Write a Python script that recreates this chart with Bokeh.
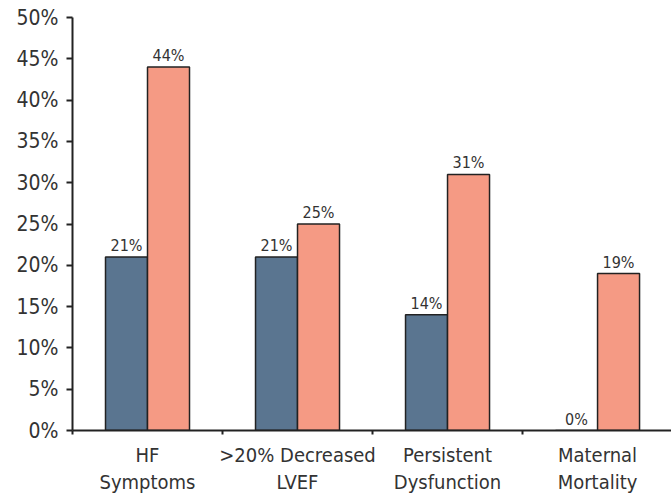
from bokeh.plotting import figure
from bokeh.models import ColumnDataSource, FixedTicker, PrintfTickFormatter, Range1d
from bokeh.core.properties import value
from bokeh.embed import file_html
from bokeh.resources import INLINE

# Outcome categories (two-line labels) and percentages for the two groups
categories = ["HF\nSymptoms", ">20% Decreased\nLVEF", "Persistent\nDysfunction", "Maternal\nMortality"]
group_a = [21, 21, 14, 0]
group_b = [44, 25, 31, 19]
y_ticks = [0, 5, 10, 15, 20, 25, 30, 35, 40, 45, 50]

COLOR_A = "#5a7590"
COLOR_B = "#f59a84"
TEXT = "#333333"
FONT = "'DejaVu Sans Condensed', 'Noto Sans Condensed', 'Roboto Condensed', 'Open Sans'"
BAR_W = 0.28

centers = [i + 0.5 for i in range(len(categories))]

src_a = ColumnDataSource(dict(
    x=[c - BAR_W / 2 for c in centers], top=group_a,
    label=[f"{v}%" for v in group_a]))
src_b = ColumnDataSource(dict(
    x=[c + BAR_W / 2 for c in centers], top=group_b,
    label=[f"{v}%" for v in group_b]))

p = figure(width=671, height=494, output_backend="svg", toolbar_location=None,
           x_range=Range1d(0, 3.993), y_range=Range1d(0, 50),
           min_border_left=72, min_border_right=0, min_border_top=17,
           min_border_bottom=64)
p.frame_width = 599
p.frame_height = 413
p.outline_line_color = None
p.grid.visible = False
p.background_fill_color = "white"
p.border_fill_color = "white"

p.vbar(x="x", top="top", width=BAR_W, bottom=0, source=src_a,
       fill_color=COLOR_A, line_color="#222222", line_width=1.5)
p.vbar(x="x", top="top", width=BAR_W, bottom=0, source=src_b,
       fill_color=COLOR_B, line_color="#222222", line_width=1.5)

for src in (src_a, src_b):
    p.text(x="x", y="top", text="label", source=src,
           text_align="center", text_baseline="bottom", y_offset=-2,
           text_font_size="16px", text_color=TEXT, text_font=value(FONT))

# y axis: percentages every 5
ya = p.yaxis[0]
ya.ticker = FixedTicker(ticks=y_ticks, minor_ticks=[])
ya.formatter = PrintfTickFormatter(format="%d%%")
ya.major_label_text_font_size = "21px"
ya.major_label_text_color = TEXT
ya.major_label_text_font = FONT
ya.axis_line_color = "#222222"
ya.axis_line_width = 2
ya.major_tick_line_color = "#222222"
ya.major_tick_line_width = 2
ya.major_tick_out = 6
ya.major_tick_in = 0
ya.major_label_standoff = 8

# x axis: labels centred on groups, small ticks at group boundaries
xa = p.xaxis[0]
xa.ticker = FixedTicker(ticks=centers, minor_ticks=[0, 1, 2, 3, 4])
xa.major_label_overrides = {c: lab for c, lab in zip(centers, categories)}
xa.major_label_text_font_size = "20px"
xa.major_label_text_color = TEXT
xa.major_label_text_font = FONT
xa.major_label_text_line_height = 1.15
xa.axis_line_color = "#222222"
xa.axis_line_width = 2
xa.major_tick_out = 0
xa.major_tick_in = 0
xa.minor_tick_out = 4
xa.minor_tick_in = 0
xa.minor_tick_line_color = "#222222"
xa.minor_tick_line_width = 2
xa.major_label_standoff = 8

open("out.html", "w").write(file_html(p, INLINE))
